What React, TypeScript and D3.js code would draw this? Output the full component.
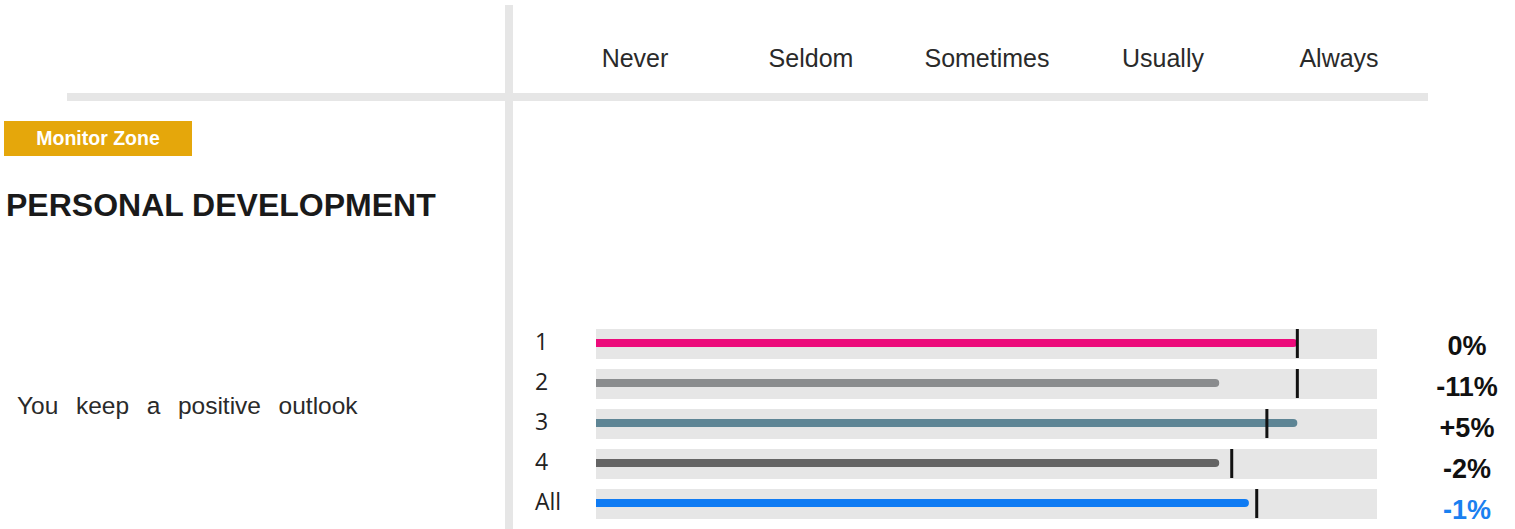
import React from "react";
import * as d3 from "d3";

// Response scale shown across the header
const scaleLabels = ["Never", "Seldom", "Sometimes", "Usually", "Always"];

// Groups compared for the statement
const groups = ["1", "2", "3", "4", "All"];
// Group score (0–100) and the benchmark score it is compared with
const scores = [89.8, 79.8, 89.8, 79.8, 83.6];
const benchmarks = [89.8, 89.8, 85.9, 81.4, 84.6];
const deltaLabels = ["0%", "-11%", "+5%", "-2%", "-1%"];

const barColors = ["#ec0b7b", "#8a8c8e", "#5e8595", "#646464", "#0f7bf3"];
const deltaColors = ["#111111", "#111111", "#111111", "#111111", "#1a80f0"];

const W = 1515;
const H = 529;

export default function App() {
  const header = d3.scaleBand<string>().domain(scaleLabels).range([547, 1427]);
  const x = d3.scaleLinear().domain([0, 100]).range([596, 1377]);
  const rows = d3
    .scaleBand<string>()
    .domain(groups)
    .range([329, 529])
    .paddingInner(0.25)
    .paddingOuter(0.125)
    .align(0);
  const deltaY = d3.scalePoint<string>().domain(groups).range([355, 519]);

  const trackH = 30;
  const lineH = 8;

  const barPath = (v: number, cy: number) => {
    const x0 = x(0);
    const x1 = x(v);
    const r = lineH / 2;
    const p = d3.path();
    p.moveTo(x0, cy - r);
    p.lineTo(x1 - r, cy - r);
    p.arc(x1 - r, cy, r, -Math.PI / 2, Math.PI / 2);
    p.lineTo(x0, cy + r);
    p.closePath();
    return p.toString();
  };

  return (
    <svg
      width={W}
      height={H}
      style={{ position: "absolute", left: 0, top: 0, background: "#ffffff" }}
    >
      {/* frame dividers */}
      <rect x={505} y={5} width={8} height={H - 5} fill="#e6e6e6" />
      <rect x={67} y={93} width={1428 - 67} height={8} fill="#e6e6e6" />

      {/* response scale header */}
      {scaleLabels.map((s) => (
        <text
          key={s}
          x={(header(s) ?? 0) + header.bandwidth() / 2}
          y={67}
          textAnchor="middle"
          fontFamily="'Liberation Sans', Arial, sans-serif"
          fontSize={25}
          fill="#2a2a2a"
        >
          {s}
        </text>
      ))}

      {/* zone badge */}
      <rect x={4} y={121} width={188} height={35} fill="#e5a70b" />
      <text
        x={98}
        y={145}
        textAnchor="middle"
        fontFamily="'Liberation Sans', Arial, sans-serif"
        fontWeight="bold"
        fontSize={19.5}
        fill="#ffffff"
      >
        Monitor Zone
      </text>

      <text
        x={6}
        y={216}
        fontFamily="'Liberation Sans', Arial, sans-serif"
        fontWeight="bold"
        fontSize={32}
        fill="#1a1a1a"
      >
        PERSONAL DEVELOPMENT
      </text>

      <text
        x={17}
        y={414}
        fontFamily="'Liberation Sans', Arial, sans-serif"
        fontSize={24.5}
        wordSpacing={10.8}
        fill="#2a2a2a"
      >
        You keep a positive outlook
      </text>

      {groups.map((g, i) => {
        const top = rows(g) ?? 0;
        const cy = top + 14;
        return (
          <g key={g}>
            <text
              x={535}
              y={top + 21}
              fontFamily="'Open Sans', 'Noto Sans', sans-serif"
              fontSize={23}
              fill="#222222"
            >
              {g}
            </text>
            <rect x={x(0)} y={top} width={x(100) - x(0)} height={trackH} fill="#e6e6e6" />
            <path d={barPath(scores[i], cy)} fill={barColors[i]} />
            <rect
              x={x(benchmarks[i]) - 1.5}
              y={top}
              width={3}
              height={trackH - 1}
              fill="#111111"
            />
            <text
              x={1467}
              y={deltaY(g)}
              textAnchor="middle"
              fontFamily="'Liberation Sans', Arial, sans-serif"
              fontWeight="bold"
              fontSize={27}
              fill={deltaColors[i]}
            >
              {deltaLabels[i]}
            </text>
          </g>
        );
      })}
    </svg>
  );
}
